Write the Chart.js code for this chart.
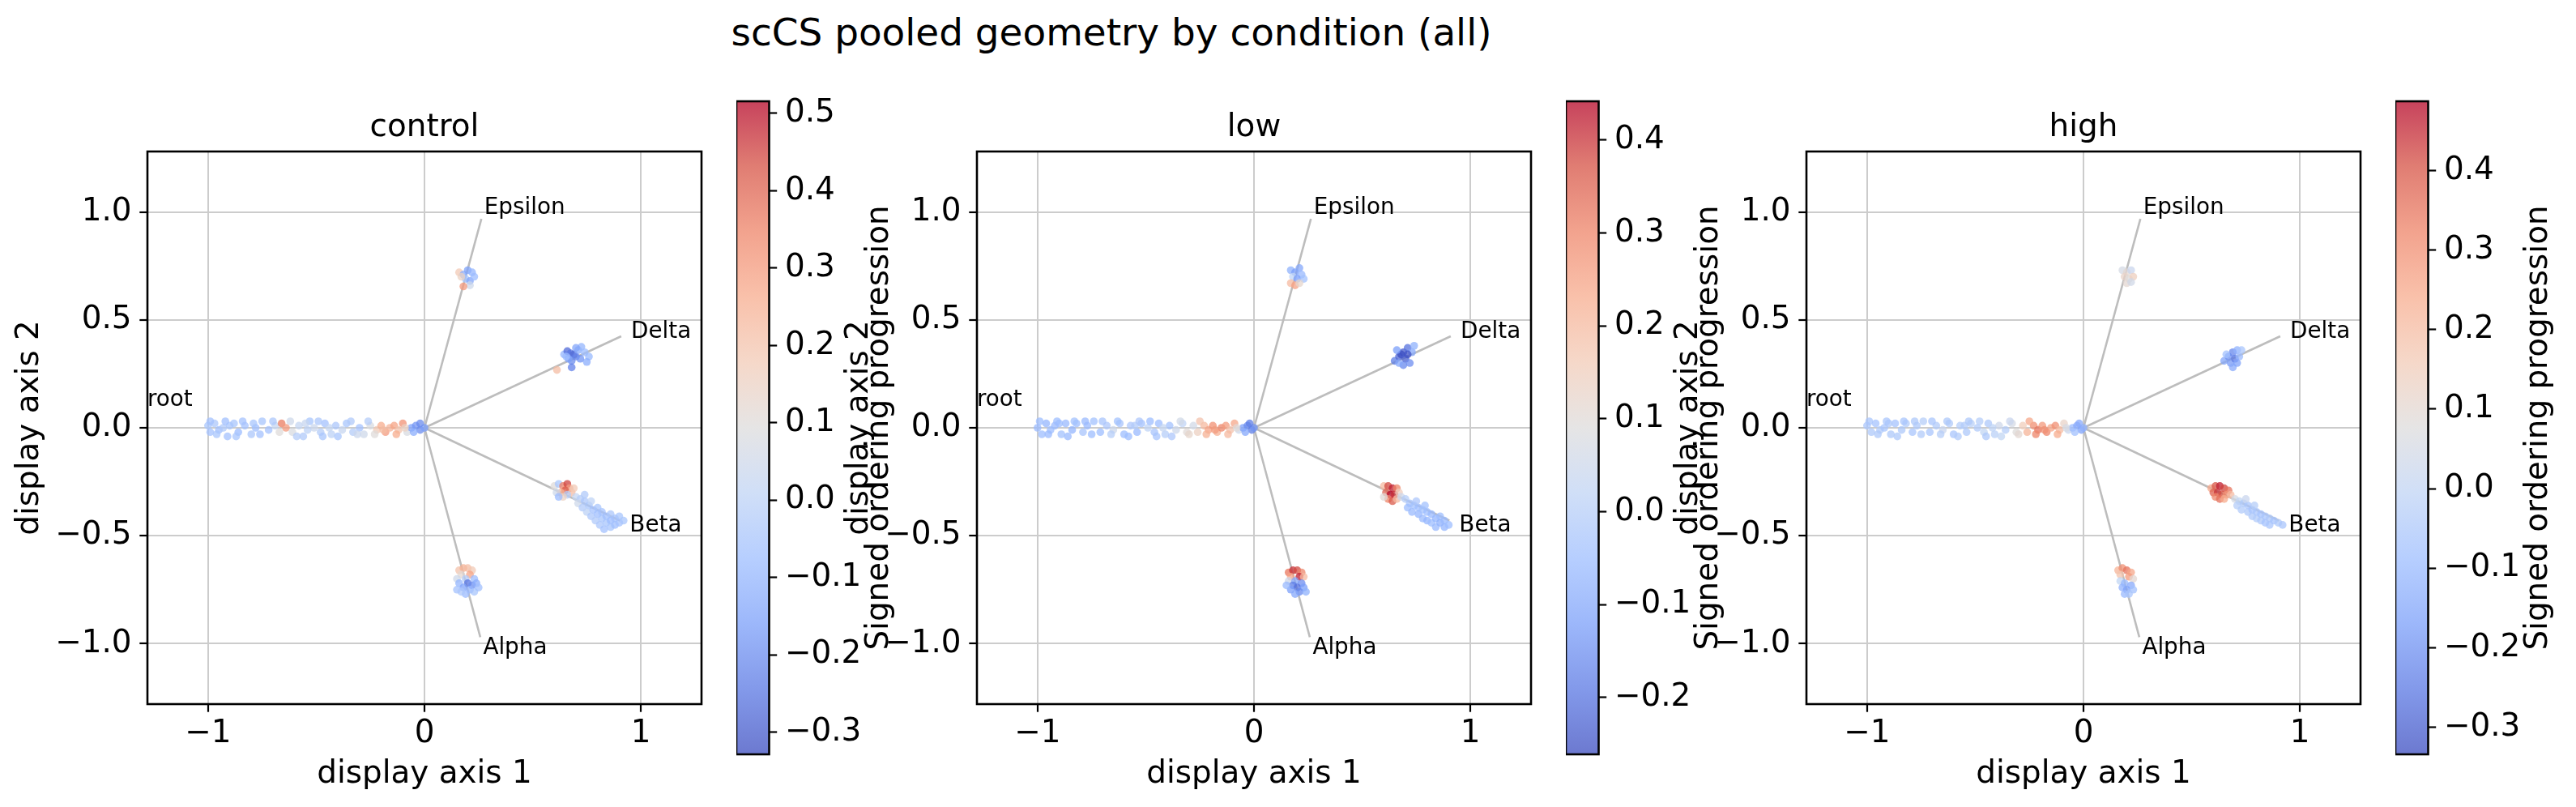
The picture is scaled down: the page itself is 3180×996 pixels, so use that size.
<!DOCTYPE html>
<html>
<head>
<meta charset="utf-8">
<script src="https://cdn.jsdelivr.net/npm/chart.js@4.4.1/dist/chart.umd.min.js"></script>
<style>
  html, body { margin: 0; padding: 0; background: #fff; }
  body { width: 3180px; height: 996px; position: relative; overflow: hidden; font-family: 'DejaVu Sans', sans-serif; }
  canvas { position: absolute; top: 0; }
  #suptitle { position: absolute; top: 17px; left: 1372px; transform: translateX(-50%); font-size: 46.9px; line-height: 1; white-space: nowrap; color: #000; }
</style>
</head>
<body>
<div id="suptitle">scCS pooled geometry by condition (all)</div>
<canvas id="panel0" width="876" height="996" style="left:0px"></canvas>
<canvas id="panel1" width="876" height="996" style="left:1024px"></canvas>
<canvas id="panel2" width="876" height="996" style="left:2048px"></canvas>
<canvas id="bar0" width="227" height="996" style="left:909px"></canvas>
<canvas id="bar1" width="227" height="996" style="left:1933px"></canvas>
<canvas id="bar2" width="227" height="996" style="left:2957px"></canvas>
<script>
// Panels and colour ranges
const conditions = ['control', 'low', 'high'];
const colorMin = [-0.3285, -0.2611, -0.334];
const colorMax = [0.5157, 0.4416, 0.487];
const colorbarTicks = [
  [-0.3, -0.2, -0.1, 0, 0.1, 0.2, 0.3, 0.4, 0.5],
  [-0.2, -0.1, 0, 0.1, 0.2, 0.3, 0.4],
  [-0.3, -0.2, -0.1, 0, 0.1, 0.2, 0.3, 0.4]
];
const axisTicksX = [-1, 0, 1];
const axisTicksY = [-1, -0.5, 0, 0.5, 1];

// Branch directions (unit vectors from the root at 0,0)
const branchNames = ['Epsilon', 'Delta', 'Beta', 'Alpha'];
const branchX = [0.263, 0.909, 0.903, 0.258];
const branchY = [0.968, 0.424, -0.430, -0.970];
const rootName = 'root';
const rootX = -1.28;
const rootY = 0.13;

// Cells: [display axis 1, display axis 2, signed ordering progression]
const controlCells = [
  // root
  [-1.00, 0.01, -0.05], [-0.99, -0.02, -0.06], [-0.97, 0.02, -0.04], [-0.95, -0.01, -0.07], [-0.93, 0.00, -0.03],
  [-0.91, -0.04, -0.06], [-0.88, 0.02, -0.05], [-0.86, -0.02, -0.08], [-0.83, 0.01, -0.06], [-0.80, -0.03, -0.04],
  [-0.78, 0.00, -0.07], [-0.75, 0.03, -0.05], [-0.72, -0.01, -0.06], [-0.69, 0.01, 0.02], [-0.66, 0.02, 0.36],
  [-0.64, 0.00, 0.30], [-0.61, -0.02, 0.08], [-0.58, 0.01, 0.02], [-0.56, -0.04, -0.03], [-0.53, 0.03, -0.05],
  [-0.51, 0.00, 0.04], [-0.48, -0.02, -0.02], [-0.46, 0.02, -0.06], [-0.43, -0.03, 0.00], [-0.41, 0.01, -0.04],
  [-0.38, -0.01, 0.03], [-0.36, 0.02, -0.05], [-0.33, -0.02, -0.02], [-0.30, 0.00, -0.06], [-0.28, -0.03, 0.05],
  [-0.25, 0.01, 0.08], [-0.22, -0.01, 0.18], [-0.20, 0.01, 0.26], [-0.18, -0.02, 0.30], [-0.16, 0.00, 0.24],
  [-0.14, 0.01, 0.28], [-0.12, -0.01, 0.20], [-0.10, 0.02, 0.32], [-0.08, -0.02, 0.08], [-0.06, 0.00, -0.15],
  [-0.04, 0.01, -0.18], [-0.02, -0.01, -0.20], [0.00, 0.00, -0.16], [-0.54, -0.01, 0.00], [-0.90, 0.01, -0.05],
  [-0.99, 0.03, -0.06], [-0.96, -0.03, -0.05], [-0.92, 0.03, -0.07], [-0.87, -0.04, -0.05], [-0.84, 0.03, -0.06],
  [-0.79, 0.02, -0.05], [-0.76, -0.03, -0.06], [-0.70, 0.03, -0.04], [-0.67, -0.02, 0.10], [-0.62, 0.03, 0.05],
  [-0.59, -0.04, -0.02], [-0.55, 0.02, 0.03], [-0.49, 0.03, -0.04], [-0.47, -0.04, -0.05], [-0.44, 0.00, 0.02],
  [-0.40, -0.04, -0.05], [-0.34, 0.03, -0.03], [-0.31, -0.03, 0.04], [-0.26, 0.03, -0.02], [-0.23, -0.03, 0.10],
  [-0.19, -0.01, 0.22], [-0.13, -0.03, 0.26], [-0.09, 0.00, 0.15], [-0.05, -0.02, -0.12], [-0.02, 0.02, -0.20],
  // Epsilon
  [0.16, 0.72, 0.18], [0.18, 0.71, -0.12], [0.20, 0.73, -0.15], [0.22, 0.72, -0.10], [0.19, 0.69, -0.05],
  [0.21, 0.68, -0.14], [0.23, 0.70, -0.08], [0.17, 0.70, 0.15], [0.21, 0.66, 0.05], [0.18, 0.655, 0.30],
  // Delta
  [0.612, 0.268, 0.22], [0.645, 0.34, -0.10], [0.66, 0.355, -0.27], [0.675, 0.345, -0.25], [0.69, 0.34, -0.28],
  [0.70, 0.33, -0.22], [0.68, 0.31, -0.20], [0.665, 0.32, -0.15], [0.68, 0.28, -0.22], [0.71, 0.36, -0.12],
  [0.725, 0.375, -0.10], [0.74, 0.35, -0.08], [0.76, 0.33, -0.09], [0.75, 0.305, -0.12], [0.72, 0.32, -0.18],
  [0.655, 0.33, -0.08], [0.70, 0.37, -0.14],
  // Beta
  [0.60, -0.27, 0.10], [0.62, -0.26, -0.05], [0.64, -0.27, 0.35], [0.66, -0.26, 0.45], [0.67, -0.28, 0.30],
  [0.65, -0.29, 0.42], [0.63, -0.30, 0.25], [0.61, -0.30, 0.05], [0.68, -0.30, 0.22], [0.66, -0.31, -0.02],
  [0.64, -0.32, 0.15], [0.62, -0.32, -0.08], [0.69, -0.28, 0.18],
  [0.70, -0.32, 0.02], [0.72, -0.33, -0.02], [0.71, -0.35, 0.05], [0.74, -0.34, -0.04], [0.73, -0.37, -0.03],
  [0.76, -0.36, -0.05], [0.75, -0.39, 0.00], [0.78, -0.38, -0.06], [0.77, -0.41, -0.04], [0.80, -0.37, -0.05],
  [0.80, -0.40, -0.07], [0.79, -0.43, -0.03], [0.82, -0.39, -0.06], [0.82, -0.42, -0.05], [0.81, -0.45, -0.04],
  [0.84, -0.41, -0.07], [0.84, -0.44, -0.05], [0.83, -0.47, -0.06], [0.86, -0.40, -0.04], [0.86, -0.43, -0.08],
  [0.86, -0.46, -0.05], [0.88, -0.42, -0.06], [0.88, -0.45, -0.07], [0.90, -0.41, -0.05], [0.90, -0.44, -0.06],
  [0.92, -0.43, -0.05], [0.74, -0.31, -0.03], [0.77, -0.34, 0.01],
  // Alpha
  [0.16, -0.66, 0.20], [0.18, -0.65, 0.25], [0.20, -0.65, 0.22], [0.22, -0.66, 0.18], [0.17, -0.68, 0.12],
  [0.21, -0.68, 0.28], [0.15, -0.70, 0.05], [0.19, -0.70, -0.02], [0.23, -0.70, -0.08], [0.16, -0.72, -0.10],
  [0.20, -0.72, -0.25], [0.22, -0.73, -0.20], [0.24, -0.72, -0.12], [0.18, -0.74, -0.15], [0.21, -0.75, -0.10],
  [0.15, -0.75, -0.06], [0.19, -0.77, -0.08], [0.23, -0.76, -0.05], [0.25, -0.74, -0.07], [0.17, -0.76, -0.04]
];

const lowCells = [
  // root
  [-1.00, 0.00, -0.06], [-0.98, -0.03, -0.05], [-0.96, 0.02, -0.07], [-0.94, -0.01, -0.05], [-0.92, 0.01, -0.06],
  [-0.89, -0.03, -0.04], [-0.87, 0.02, -0.06], [-0.84, -0.01, -0.07], [-0.82, 0.02, -0.05], [-0.79, -0.02, -0.03],
  [-0.77, 0.01, -0.06], [-0.74, 0.03, -0.04], [-0.71, -0.02, -0.05], [-0.68, 0.01, -0.02], [-0.65, -0.01, 0.05],
  [-0.62, 0.02, -0.03], [-0.60, -0.03, -0.05], [-0.57, 0.01, -0.02], [-0.54, -0.02, -0.06], [-0.52, 0.02, -0.04],
  [-0.49, 0.00, 0.02], [-0.46, -0.02, -0.03], [-0.44, 0.02, -0.05], [-0.41, -0.03, 0.00], [-0.39, 0.01, -0.04],
  [-0.36, -0.01, 0.05], [-0.33, 0.02, 0.02], [-0.31, -0.02, 0.10], [-0.28, 0.01, 0.06], [-0.26, -0.02, 0.14],
  [-0.23, 0.01, 0.20], [-0.21, -0.01, 0.25], [-0.19, 0.01, 0.28], [-0.17, -0.02, 0.22], [-0.15, 0.00, 0.30],
  [-0.13, 0.01, 0.26], [-0.11, -0.01, 0.18], [-0.09, 0.02, 0.24], [-0.07, -0.01, 0.05], [-0.05, 0.00, -0.12],
  [-0.03, 0.01, -0.16], [-0.01, -0.01, -0.18], [0.00, 0.00, -0.14], [-0.55, 0.01, -0.01], [-0.90, 0.02, -0.05],
  [-0.99, 0.03, -0.05], [-0.95, -0.03, -0.06], [-0.91, 0.03, -0.05], [-0.86, -0.04, -0.06], [-0.83, 0.03, -0.04],
  [-0.78, 0.03, -0.06], [-0.75, -0.03, -0.05], [-0.70, 0.03, -0.03], [-0.66, -0.03, 0.00], [-0.63, 0.03, -0.04],
  [-0.58, -0.04, -0.05], [-0.53, 0.03, -0.02], [-0.48, 0.03, -0.05], [-0.45, -0.04, -0.03], [-0.42, 0.00, 0.03],
  [-0.38, -0.04, -0.02], [-0.34, 0.03, 0.06], [-0.30, -0.03, 0.12], [-0.25, 0.03, 0.18], [-0.22, -0.03, 0.22],
  [-0.18, -0.01, 0.26], [-0.12, -0.03, 0.20], [-0.08, 0.00, 0.10], [-0.04, -0.02, -0.10], [-0.02, 0.02, -0.18],
  // Epsilon
  [0.17, 0.73, -0.08], [0.19, 0.72, -0.12], [0.21, 0.74, -0.10], [0.22, 0.71, -0.06], [0.18, 0.70, 0.02],
  [0.20, 0.69, -0.12], [0.23, 0.69, -0.04], [0.17, 0.67, 0.20], [0.19, 0.66, 0.25], [0.21, 0.67, 0.12],
  // Delta
  [0.65, 0.31, -0.18], [0.67, 0.33, -0.22], [0.69, 0.35, -0.24], [0.71, 0.37, -0.20], [0.68, 0.34, -0.26],
  [0.70, 0.32, -0.23], [0.72, 0.30, -0.15], [0.66, 0.36, -0.12], [0.73, 0.35, -0.10], [0.69, 0.29, -0.16],
  [0.71, 0.34, -0.25], [0.74, 0.38, -0.08], [0.67, 0.30, -0.10],
  // Beta
  [0.60, -0.27, 0.20], [0.62, -0.27, 0.38], [0.64, -0.28, 0.42], [0.66, -0.28, 0.30], [0.61, -0.30, 0.35],
  [0.63, -0.31, 0.44], [0.65, -0.31, 0.40], [0.67, -0.30, 0.15], [0.62, -0.33, 0.30], [0.64, -0.34, 0.36],
  [0.66, -0.33, 0.20], [0.60, -0.32, 0.10], [0.68, -0.32, 0.05],
  [0.70, -0.33, 0.00], [0.72, -0.35, -0.03], [0.71, -0.37, -0.05], [0.74, -0.36, -0.04], [0.73, -0.39, -0.06],
  [0.76, -0.37, -0.05], [0.76, -0.40, -0.07], [0.78, -0.38, -0.04], [0.78, -0.42, -0.06], [0.80, -0.39, -0.05],
  [0.80, -0.43, -0.07], [0.82, -0.40, -0.06], [0.82, -0.44, -0.05], [0.84, -0.42, -0.07], [0.84, -0.46, -0.06],
  [0.86, -0.41, -0.05], [0.86, -0.44, -0.08], [0.88, -0.43, -0.06], [0.88, -0.46, -0.07], [0.90, -0.45, -0.05],
  [0.75, -0.34, -0.02], [0.79, -0.36, -0.04],
  // Alpha
  [0.16, -0.67, 0.32], [0.18, -0.66, 0.40], [0.20, -0.66, 0.38], [0.22, -0.67, 0.30], [0.17, -0.69, 0.25],
  [0.21, -0.69, 0.42], [0.23, -0.69, 0.20], [0.16, -0.71, 0.05], [0.19, -0.71, -0.10], [0.22, -0.72, -0.15],
  [0.18, -0.73, -0.18], [0.20, -0.74, -0.20], [0.23, -0.74, -0.12], [0.17, -0.75, -0.12], [0.21, -0.76, -0.16],
  [0.19, -0.77, -0.10], [0.24, -0.76, -0.08], [0.15, -0.73, -0.06]
];

const highCells = [
  // root
  [-1.00, 0.01, -0.06], [-0.98, -0.02, -0.05], [-0.96, 0.02, -0.07], [-0.94, -0.01, -0.04], [-0.92, 0.00, -0.06],
  [-0.89, -0.03, -0.05], [-0.87, 0.02, -0.07], [-0.84, -0.01, -0.05], [-0.82, 0.02, -0.04], [-0.79, -0.02, -0.06],
  [-0.77, 0.01, -0.05], [-0.74, 0.03, -0.03], [-0.71, -0.02, -0.06], [-0.68, 0.01, -0.04], [-0.65, -0.01, 0.02],
  [-0.62, 0.02, -0.04], [-0.60, -0.03, -0.06], [-0.57, 0.01, -0.03], [-0.54, -0.02, -0.05], [-0.52, 0.02, -0.02],
  [-0.49, 0.00, -0.04], [-0.46, -0.02, 0.00], [-0.44, 0.02, -0.05], [-0.41, -0.03, -0.02], [-0.39, 0.01, 0.03],
  [-0.36, -0.01, -0.03], [-0.33, 0.02, 0.05], [-0.31, -0.02, 0.08], [-0.28, 0.01, 0.15], [-0.26, -0.02, 0.22],
  [-0.23, 0.01, 0.30], [-0.21, -0.01, 0.35], [-0.19, 0.01, 0.28], [-0.17, -0.02, 0.32], [-0.15, 0.00, 0.25],
  [-0.13, 0.01, 0.30], [-0.11, -0.01, 0.20], [-0.09, 0.02, 0.12], [-0.07, -0.01, 0.02], [-0.05, 0.00, -0.10],
  [-0.03, 0.01, -0.14], [-0.01, -0.01, -0.16], [0.00, 0.00, -0.12], [-0.55, 0.01, -0.04], [-0.90, 0.02, -0.05],
  [-0.99, 0.03, -0.06], [-0.95, -0.03, -0.05], [-0.91, 0.03, -0.06], [-0.86, -0.04, -0.05], [-0.83, 0.03, -0.06],
  [-0.78, 0.03, -0.05], [-0.75, -0.03, -0.04], [-0.70, 0.03, -0.06], [-0.66, -0.03, -0.03], [-0.63, 0.03, -0.05],
  [-0.58, -0.04, -0.04], [-0.53, 0.03, -0.05], [-0.48, 0.03, -0.03], [-0.45, -0.04, -0.05], [-0.42, 0.00, -0.01],
  [-0.38, -0.04, 0.00], [-0.34, 0.03, 0.02], [-0.30, -0.03, 0.10], [-0.25, 0.03, 0.25], [-0.22, -0.03, 0.32],
  [-0.18, -0.01, 0.30], [-0.12, -0.03, 0.24], [-0.08, 0.00, 0.06], [-0.04, -0.02, -0.08], [-0.02, 0.02, -0.14],
  // Epsilon
  [0.18, 0.73, 0.05], [0.20, 0.72, 0.10], [0.22, 0.73, 0.02], [0.19, 0.70, 0.12], [0.21, 0.69, 0.08],
  [0.23, 0.70, 0.14], [0.20, 0.67, 0.10], [0.22, 0.675, 0.04],
  // Delta
  [0.65, 0.31, -0.15], [0.67, 0.33, -0.20], [0.69, 0.35, -0.22], [0.71, 0.36, -0.12], [0.68, 0.30, -0.18],
  [0.70, 0.32, -0.25], [0.72, 0.33, -0.10], [0.66, 0.34, -0.08], [0.69, 0.28, -0.14], [0.73, 0.36, -0.06],
  [0.71, 0.30, -0.16],
  // Beta
  [0.59, -0.28, 0.25], [0.61, -0.27, 0.40], [0.63, -0.27, 0.46], [0.65, -0.28, 0.42], [0.67, -0.29, 0.35],
  [0.60, -0.30, 0.38], [0.62, -0.30, 0.44], [0.64, -0.31, 0.40], [0.66, -0.31, 0.30], [0.61, -0.32, 0.32],
  [0.63, -0.33, 0.36], [0.68, -0.31, 0.20], [0.65, -0.33, 0.24],
  [0.70, -0.33, 0.05], [0.72, -0.34, 0.00], [0.71, -0.36, -0.03], [0.74, -0.35, -0.05], [0.73, -0.38, -0.04],
  [0.76, -0.36, -0.06], [0.76, -0.39, -0.05], [0.78, -0.38, -0.07], [0.78, -0.41, -0.05], [0.80, -0.39, -0.06],
  [0.80, -0.42, -0.04], [0.82, -0.40, -0.07], [0.82, -0.43, -0.05], [0.84, -0.41, -0.06], [0.84, -0.44, -0.07],
  [0.86, -0.42, -0.05], [0.86, -0.45, -0.06], [0.88, -0.43, -0.07], [0.90, -0.44, -0.05], [0.92, -0.45, -0.06],
  [0.75, -0.33, 0.02], [0.79, -0.36, -0.03],
  // Alpha
  [0.16, -0.66, 0.22], [0.18, -0.65, 0.30], [0.20, -0.66, 0.35], [0.22, -0.67, 0.25], [0.17, -0.68, 0.18],
  [0.21, -0.69, 0.28], [0.23, -0.70, 0.10], [0.17, -0.71, 0.00], [0.19, -0.72, -0.10], [0.22, -0.73, -0.14],
  [0.18, -0.74, -0.12], [0.20, -0.75, -0.16], [0.23, -0.75, -0.08], [0.19, -0.77, -0.10], [0.21, -0.77, -0.06]
];

const cellsByPanel = [controlCells, lowCells, highCells];

// coolwarm colormap samples at 0, 0.1, ... 1
const coolwarm = ['#3b4cc0', '#5977e3', '#7b9ff9', '#9ebeff', '#c0d4f5', '#dddcdc',
                  '#f2cbb7', '#f7ac8e', '#ee8468', '#d65244', '#b40426'];

function hexRgb(h) {
  return [parseInt(h.slice(1, 3), 16), parseInt(h.slice(3, 5), 16), parseInt(h.slice(5, 7), 16)];
}

function cmap(t, alpha) {
  t = Math.max(0, Math.min(1, t));
  const pos = t * (coolwarm.length - 1);
  const i = Math.min(Math.floor(pos), coolwarm.length - 2);
  const f = pos - i;
  const a = hexRgb(coolwarm[i]), b = hexRgb(coolwarm[i + 1]);
  const c = a.map((v, k) => Math.round(v + (b[k] - v) * f));
  return `rgba(${c[0]},${c[1]},${c[2]},${alpha})`;
}

function fmt(v, digits) {
  if (Math.abs(v) < 1e-9) v = 0;
  return (v < 0 ? '\u2212' : '') + Math.abs(v).toFixed(digits);
}

const FONT = 'DejaVu Sans';
Chart.defaults.font.family = FONT;
Chart.defaults.color = '#000';

// Draws the black box round the plot area
const framePlugin = {
  id: 'frame',
  afterDraw(chart) {
    const { ctx, chartArea: a } = chart;
    ctx.save();
    ctx.strokeStyle = '#000';
    ctx.lineWidth = 2.6;
    ctx.strokeRect(a.left, a.top, a.right - a.left, a.bottom - a.top);
    ctx.restore();
  }
};

// Branch names next to the ends of the lines
const branchLabelPlugin = {
  id: 'branchLabels',
  afterDatasetsDraw(chart) {
    const { ctx, scales: { x, y } } = chart;
    ctx.save();
    ctx.font = `27.8px "${FONT}"`;
    ctx.fillStyle = '#000';
    ctx.textAlign = 'left';
    ctx.textBaseline = 'middle';
    branchNames.forEach((name, i) => {
      ctx.fillText(name, x.getPixelForValue(branchX[i] * 1.05), y.getPixelForValue(branchY[i] * 1.05));
    });
    ctx.fillText(rootName, x.getPixelForValue(rootX), y.getPixelForValue(rootY));
    ctx.restore();
  }
};

function makePanel(p) {
  const cells = cellsByPanel[p];
  const lo = colorMin[p], hi = colorMax[p];
  const datasets = [{
    data: cells.map(c => ({ x: c[0], y: c[1] })),
    backgroundColor: cells.map(c => cmap((c[2] - lo) / (hi - lo), 0.75)),
    pointRadius: 4.8,
    pointBorderWidth: 0,
    order: 0
  }];
  branchNames.forEach((name, i) => {
    datasets.push({
      data: [{ x: 0, y: 0 }, { x: branchX[i], y: branchY[i] }],
      showLine: true,
      borderColor: '#bdbdbd',
      borderWidth: 2.6,
      pointRadius: 0,
      order: 1
    });
  });

  new Chart(document.getElementById('panel' + p), {
    type: 'scatter',
    data: { datasets },
    plugins: [framePlugin, branchLabelPlugin],
    options: {
      responsive: false,
      animation: false,
      devicePixelRatio: 1,
      layout: { padding: { left: 0, right: 10, top: 0, bottom: 0 } },
      plugins: {
        legend: { display: false },
        tooltip: { enabled: false },
        title: {
          display: true,
          fullSize: false,
          text: conditions[p],
          font: { size: 38.9, weight: 'normal' },
          color: '#000',
          padding: { top: 134.7, bottom: 5.6 }
        }
      },
      scales: {
        x: {
          type: 'linear', min: -1.28, max: 1.28, z: 1,
          afterBuildTicks: s => { s.ticks = axisTicksX.map(v => ({ value: v })); },
          afterFit: s => { s.height = 127; },
          grid: { color: '#cccccc', lineWidth: 2, tickColor: '#000', tickLength: 9.7, tickWidth: 2.2 },
          border: { display: false },
          ticks: { autoSkip: false, maxRotation: 0, padding: 3.7, font: { size: 38.9 }, color: '#000',
                   callback: v => fmt(v, 0) },
          title: { display: true, text: 'display axis 1', font: { size: 38.9 }, color: '#000',
                   padding: { top: 0, bottom: 16.7 } }
        },
        y: {
          type: 'linear', min: -1.28, max: 1.28, z: 1,
          afterBuildTicks: s => { s.ticks = axisTicksY.map(v => ({ value: v })); },
          afterFit: s => { s.width = 182; },
          grid: { color: '#cccccc', lineWidth: 2, tickColor: '#000', tickLength: 9.7, tickWidth: 2.2 },
          border: { display: false },
          ticks: { autoSkip: false, padding: 9.7, font: { size: 38.9 }, color: '#000',
                   callback: v => fmt(v, 1) },
          title: { display: true, text: 'display axis 2', font: { size: 38.9 }, color: '#000',
                   padding: { top: 13.7, bottom: 0 } }
        }
      }
    }
  });
}

// Colourbar label, reading bottom to top
const cbarLabelPlugin = {
  id: 'cbarLabel',
  afterDraw(chart) {
    const { ctx, chartArea: a } = chart;
    ctx.save();
    ctx.translate(a.right + 136, (a.top + a.bottom) / 2);
    ctx.rotate(-Math.PI / 2);
    ctx.font = `38.9px "${FONT}"`;
    ctx.fillStyle = '#000';
    ctx.textAlign = 'center';
    ctx.textBaseline = 'middle';
    ctx.fillText('Signed ordering progression', 0, 0);
    ctx.restore();
  }
};

function makeColorbar(p) {
  const lo = colorMin[p], hi = colorMax[p];
  new Chart(document.getElementById('bar' + p), {
    type: 'bar',
    data: {
      labels: [''],
      datasets: [{
        data: [[lo, hi]],
        backgroundColor: ctx => {
          const { chart } = ctx;
          const a = chart.chartArea;
          if (!a) return '#ccc';
          const g = chart.ctx.createLinearGradient(0, a.bottom, 0, a.top);
          for (let i = 0; i <= 20; i++) g.addColorStop(i / 20, cmap(i / 20, 0.75));
          return g;
        },
        borderWidth: 0,
        barPercentage: 1,
        categoryPercentage: 1
      }]
    },
    plugins: [framePlugin, cbarLabelPlugin],
    options: {
      responsive: false,
      animation: false,
      devicePixelRatio: 1,
      layout: { padding: { left: 0, right: 0, top: 125, bottom: 65 } },
      plugins: { legend: { display: false }, tooltip: { enabled: false } },
      scales: {
        x: { display: false },
        y: {
          position: 'right', min: lo, max: hi,
          afterBuildTicks: s => { s.ticks = colorbarTicks[p].map(v => ({ value: v })); },
          afterFit: s => { s.width = 227 - 40.5; },
          grid: { display: true, drawOnChartArea: false, drawTicks: true, tickLength: 9.7,
                  tickColor: '#000', tickWidth: 2.2 },
          border: { display: false },
          ticks: { autoSkip: false, padding: 9.7, font: { size: 38.9 }, color: '#000',
                   callback: v => fmt(v, 1) }
        }
      }
    }
  });
}

window.onload = function () {
  [0, 1, 2].forEach(p => {
    makePanel(p);
    makeColorbar(p);
  });
};
</script>
</body>
</html>
